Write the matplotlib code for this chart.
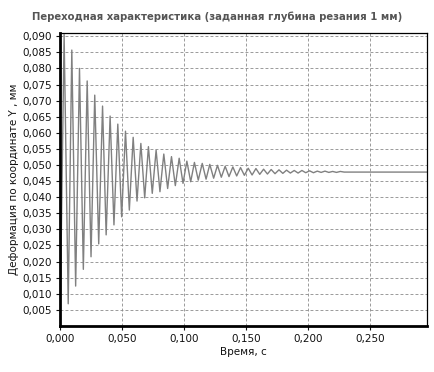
import matplotlib
matplotlib.use('Agg')
import matplotlib.pyplot as plt
from matplotlib.ticker import FuncFormatter, MultipleLocator

# Extremes of the transient (time, s / deformation, mm)
peak_t = [0.0033, 0.0095, 0.0157, 0.0219, 0.0280, 0.0343, 0.0404, 0.0466,
          0.0528, 0.0590, 0.0652, 0.0713, 0.0775, 0.0837, 0.0899, 0.0961,
          0.1023, 0.1084, 0.1147, 0.1208, 0.1270, 0.1332, 0.1394, 0.1456,
          0.1518, 0.1580, 0.1642, 0.1703, 0.1766, 0.1827, 0.1889, 0.1951,
          0.2013, 0.2075, 0.2137, 0.2199, 0.2261]
peak_y = [0.0905, 0.0857, 0.0800, 0.0761, 0.0717, 0.0683, 0.0652, 0.0627,
          0.0605, 0.0586, 0.0567, 0.0557, 0.0546, 0.0534, 0.0526, 0.0521,
          0.0512, 0.0508, 0.0505, 0.0502, 0.0499, 0.0496, 0.0494, 0.0492,
          0.0490, 0.0489, 0.0487, 0.0486, 0.0485, 0.0484, 0.0483, 0.0483,
          0.0482, 0.0481, 0.0481, 0.0480, 0.0480]
trough_t = [0.0066, 0.0126, 0.0188, 0.0250, 0.0312, 0.0372, 0.0435, 0.0497,
            0.0559, 0.0621, 0.0683, 0.0744, 0.0806, 0.0868, 0.0930, 0.0992,
            0.1054, 0.1115, 0.1178, 0.1239, 0.1301, 0.1363, 0.1425, 0.1487,
            0.1549, 0.1611, 0.1673, 0.1734, 0.1797, 0.1858, 0.1920, 0.1982,
            0.2044, 0.2106, 0.2168, 0.2230, 0.2292]
trough_y = [0.0069, 0.0124, 0.0176, 0.0215, 0.0255, 0.0283, 0.0314, 0.0339,
            0.0360, 0.0388, 0.0398, 0.0412, 0.0417, 0.0427, 0.0436, 0.0443,
            0.0448, 0.0453, 0.0456, 0.0459, 0.0462, 0.0464, 0.0466, 0.0468,
            0.0469, 0.0471, 0.0472, 0.0473, 0.0474, 0.0475, 0.0475, 0.0476,
            0.0476, 0.0477, 0.0477, 0.0477, 0.0478]
start_t, start_y = 0.0, 0.0
end_t, end_y = 0.296, 0.0478

# stitch peaks and troughs into one zigzag
t = [start_t]
y = [start_y]
for pt, py, tt, ty in zip(peak_t, peak_y, trough_t, trough_y):
    t += [pt, tt]
    y += [py, ty]
t.append(end_t)
y.append(end_y)

fig = plt.figure(figsize=(4.35, 3.72), dpi=100)
ax = fig.add_axes([0.138, 0.1237, 0.8436, 0.7876])

ax.plot(t, y, color='#808080', lw=1.0)

ax.set_xlim(0, 0.296)
ax.set_ylim(0, 0.091)
ax.xaxis.set_major_locator(MultipleLocator(0.05))
ax.set_yticks([v / 1000 for v in range(5, 95, 5)])
comma = FuncFormatter(lambda v, pos: f'{v:.3f}'.replace('.', ','))
ax.xaxis.set_major_formatter(comma)
ax.yaxis.set_major_formatter(comma)
ax.tick_params(labelsize=7.5, colors='#111111', length=3, width=0.8, pad=3)
ax.grid(True, color='#8a8a8a', linestyle=(0, (3.5, 2.5)), linewidth=0.6)

for side in ['left', 'bottom']:
    ax.spines[side].set_linewidth(2.0)
for side in ['top', 'right']:
    ax.spines[side].set_linewidth(0.9)

ax.set_xlabel('Время, с', fontsize=7.5, color='#111111', labelpad=2)
ax.set_ylabel('Деформация по координате Y , мм', fontsize=7.5,
              color='#111111', labelpad=2)
fig.text(0.5, 0.955, 'Переходная характеристика (заданная глубина резания 1 мм)',
         ha='center', va='center', fontsize=7.3, fontweight='bold',
         color='#555555')

fig.savefig('out.png', dpi=100)
plt.close(fig)
